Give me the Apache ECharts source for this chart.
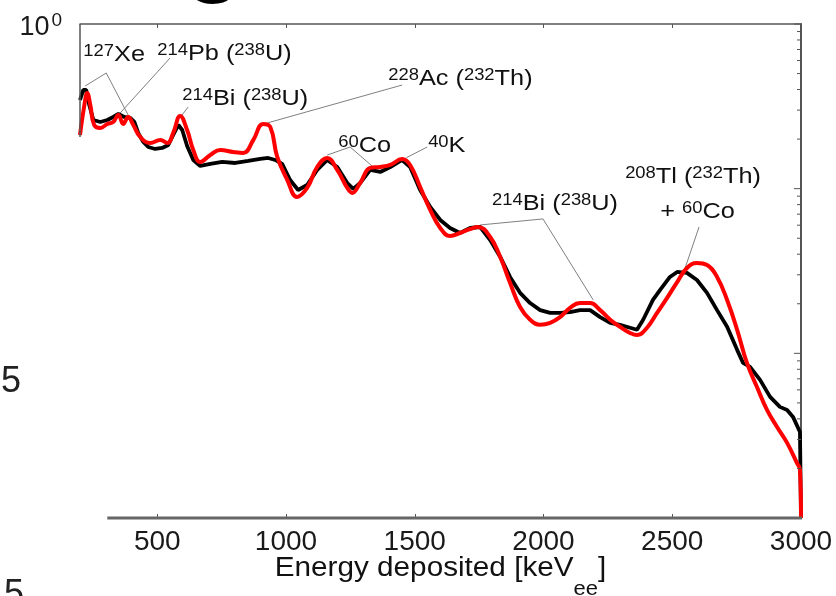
<!DOCTYPE html>
<html><head><meta charset="utf-8">
<script src="https://cdn.jsdelivr.net/npm/echarts@6/dist/echarts.min.js"></script>
<style>html,body{margin:0;padding:0;background:#fff}#c{width:836px;height:596px}</style>
</head><body><div id="c"></div>
<script>
// ---- axis ticks ----
const energyTicks = [500, 1000, 1500, 2000, 2500, 3000];
const energyInnerTicks = [500, 1000, 1500, 2000, 2500];
const yDecades = [0.001, 0.01, 0.1, 1];
const yMinor = [0.002,0.003,0.004,0.005,0.006,0.007,0.008,0.009,
                0.02,0.03,0.04,0.05,0.06,0.07,0.08,0.09,
                0.2,0.3,0.4,0.5,0.6,0.7,0.8,0.9];

// ---- measured spectrum (black) ----
const dataE = [200,213,224,236,252,279,306,329,349,372,395,411,426,446,465,492,519,543,562,582,597,616,640,667,706,752,803,853,900,931,958,985,1016,1047,1082,1121,1160,1199,1238,1261,1288,1327,1366,1405,1451,1482,1521,1560,1599,1637,1676,1715,1754,1793,1832,1870,1909,1948,1987,2026,2064,2103,2142,2181,2220,2259,2297,2336,2363,2387,2425,2453,2491,2519,2557,2596,2635,2674,2713,2752,2775,2802,2841,2880,2918,2946,2969,2996,3000];
const dataV = [0.3456,0.3975,0.3975,0.3222,0.2613,0.2541,0.2613,0.2725,0.2842,0.2725,0.2687,0.2541,0.2179,0.1921,0.1792,0.1742,0.1767,0.1842,0.2118,0.2436,0.2272,0.1817,0.1494,0.1374,0.1413,0.1453,0.1432,0.1473,0.1515,0.1536,0.1494,0.1413,0.1129,0.0982,0.1053,0.1299,0.1494,0.1354,0.1083,0.0996,0.1083,0.1299,0.1263,0.1354,0.1494,0.1354,0.0982,0.0774,0.0646,0.0577,0.0538,0.0577,0.0585,0.0488,0.0385,0.0291,0.0233,0.0202,0.0183,0.0176,0.0176,0.0178,0.0183,0.0183,0.0166,0.0153,0.0149,0.0143,0.0139,0.0160,0.0211,0.0243,0.0291,0.0312,0.0308,0.0279,0.0233,0.0183,0.0145,0.0105,0.00874,0.00827,0.00690,0.00544,0.00473,0.00453,0.00411,0.00333,0.001];

// ---- simulation / fit (red) ----
const fitE = [200,217,228,240,255,279,306,329,349,368,387,407,434,473,512,539,562,589,616,640,667,706,745,795,834,873,911,939,966,1005,1043,1082,1121,1160,1199,1238,1257,1288,1327,1366,1405,1451,1482,1521,1560,1599,1637,1676,1715,1746,1793,1832,1870,1909,1948,1987,2026,2064,2103,2142,2181,2220,2259,2297,2336,2363,2402,2441,2480,2519,2557,2596,2635,2674,2713,2752,2790,2829,2868,2907,2946,2984,2996,3000];
const fitV = [0.2118,0.3222,0.3811,0.3222,0.2436,0.2336,0.2471,0.2541,0.2802,0.2471,0.2725,0.2436,0.2060,0.1894,0.1975,0.1894,0.2179,0.2763,0.2272,0.1718,0.1453,0.1602,0.1718,0.1670,0.1647,0.1975,0.2471,0.2369,0.1558,0.1129,0.0891,0.1010,0.1354,0.1536,0.1299,0.1010,0.0942,0.1083,0.1336,0.1354,0.1393,0.1515,0.1393,0.1024,0.0743,0.0577,0.0516,0.0538,0.0569,0.0585,0.0509,0.0385,0.0268,0.0191,0.0160,0.0149,0.0153,0.0166,0.0189,0.0202,0.0202,0.0183,0.0160,0.0145,0.0133,0.0129,0.0143,0.0176,0.0217,0.0271,0.0330,0.0354,0.0344,0.0291,0.0211,0.0139,0.00874,0.00625,0.00453,0.00357,0.00286,0.00216,0.00196,0.001];

// ---- annotation leader lines (energy, value) ----
const leaderXe    = [[220,0.420],[302,0.504],[387,0.280]];
const leaderPb    = [[550,0.622],[356,0.288]];
const leaderBi609 = [[620,0.313],[593,0.276]];
const leaderAc    = [[927,0.2505],[1451,0.426]];
const leaderCo    = [[1160,0.160],[1249,0.179],[1335,0.137]];
const leaderK     = [[1467,0.154],[1548,0.179]];
const leaderBi    = [[1754,0.0602],[1998,0.0655],[2193,0.0211]];
const leaderTl    = [[2604,0.0585],[2550,0.0330]];

// ---- annotation labels: anchor = left / baseline (energy, value) ----
const labelAnchors = [[213,0.596],[500,0.6045],[597,0.3222],[1397,0.4262],[1203,0.1670],[1552,0.1670],[1800,0.0743],[2317,0.1083],[2453,0.0664]];
const labelTexts = [
  '{s|127}{m|Xe}',
  '{s|214}{m|Pb (}{s|238}{m|U)}',
  '{s|214}{m|Bi (}{s|238}{m|U)}',
  '{s|228}{m|Ac (}{s|232}{m|Th)}',
  '{s|60}{m|Co}',
  '{s|40}{m|K}',
  '{s|214}{m|Bi (}{s|238}{m|U)}',
  '{s|208}{m|Tl (}{s|232}{m|Th)}',
  '{m|+ }{s|60}{m|Co}'
];

const FF = 'Liberation Sans, Arial, Helvetica, sans-serif';
const zip = (a, b) => a.map((x, i) => [x, b[i]]);

const chart = echarts.init(document.getElementById('c'), null, {renderer: 'canvas'});

const leaders = [leaderXe, leaderPb, leaderBi609, leaderAc, leaderCo, leaderK, leaderBi, leaderTl];
const series = leaders.map(pts => ({
  type: 'line', data: pts, symbol: 'none', silent: true, z: 1,
  xAxisIndex: 0, yAxisIndex: 0,
  lineStyle: {color: '#808080', width: 1}
}));
series.push({
  type: 'line', name: 'data', data: zip(dataE, dataV), symbol: 'none', z: 2,
  xAxisIndex: 0, yAxisIndex: 0,
  lineStyle: {color: '#000', width: 3.8}
});
series.push({
  type: 'line', name: 'fit', data: zip(fitE, fitV), symbol: 'none', z: 3,
  smooth: 0.45,
  xAxisIndex: 0, yAxisIndex: 0,
  lineStyle: {color: '#ff0000', width: 4}
});
series.push({
  type: 'custom', silent: true, z: 4, xAxisIndex: 0, yAxisIndex: 0,
  data: yDecades.map(v => [3000, v, 1]).concat(yMinor.map(v => [3000, v, 0])),
  encode: {x: 0, y: 1},
  renderItem: function (params, api) {
    const p = api.coord([api.value(0), api.value(1)]);
    const len = api.value(2) ? 7 : 4;
    return {type: 'line', shape: {x1: p[0], y1: p[1], x2: p[0] - len, y2: p[1]},
            style: {stroke: '#555', lineWidth: 1}};
  }
});

chart.setOption({
  animation: false,
  backgroundColor: '#fff',
  grid: {left: 80, right: 35, top: 24, bottom: 78, containLabel: false, outerBoundsMode: 'none'},
  xAxis: [{
    type: 'value', min: 200, max: 3000, position: 'bottom',
    axisLine: {show: false},
    axisTick: {show: true, inside: true, length: 4, customValues: energyInnerTicks, lineStyle: {color: '#555'}},
    axisLabel: {show: true, customValues: energyTicks, margin: 10, fontSize: 28, fontFamily: FF, color: '#1a1a1a',
      formatter: v => String(v)},
    splitLine: {show: false}
  }, {
    type: 'value', min: 200, max: 3000, position: 'top',
    axisLine: {show: true, lineStyle: {color: '#555', width: 1.5}},
    axisTick: {show: true, inside: true, length: 4, customValues: energyInnerTicks, lineStyle: {color: '#555'}},
    axisLabel: {show: false},
    splitLine: {show: false}
  }],
  yAxis: [{
    type: 'log', logBase: 10, min: 0.001, max: 1, position: 'left',
    axisLine: {show: false}, axisTick: {show: false}, splitLine: {show: false},
    axisLabel: {
      show: true, margin: 18, showMaxLabel: true, padding: [8, 0, 0, 0],
      formatter: v => (Math.abs(v - 1) < 1e-9 ? '{n|10}{e|0}' : ''),
      rich: {
        n: {fontSize: 27, fontFamily: FF, color: '#1a1a1a', lineHeight: 34},
        e: {fontSize: 19, fontFamily: FF, color: '#1a1a1a', lineHeight: 16, verticalAlign: 'top', padding: [0, 0, 0, 2]}
      }
    }
  }, {
    type: 'log', logBase: 10, min: 0.001, max: 1, position: 'right',
    axisLine: {show: true, lineStyle: {color: '#555', width: 2}},
    axisTick: {show: false}, axisLabel: {show: false}, splitLine: {show: false}
  }],
  series: series
});

// ---- overlay texts and partial frame lines, positioned via the axes ----
const px = (e, v) => chart.convertToPixel({xAxisIndex: 0, yAxisIndex: 0}, [e, v]);
const graphics = [];
const annRich = {
  m: {fontSize: 22, fontFamily: FF, fill: '#111', color: '#111', lineHeight: 28, verticalAlign: 'top'},
  s: {fontSize: 16, fontFamily: FF, fill: '#111', color: '#111', lineHeight: 14, verticalAlign: 'top'}
};
labelAnchors.forEach((a, i) => {
  const p = px(a[0], a[1]);
  graphics.push({type: 'text', x: p[0], y: p[1] - 17, scaleX: 1.15, silent: true, z: 10,
    style: {text: labelTexts[i], rich: annRich, fill: '#111', fontSize: 22, fontFamily: FF}});
});
// axis title
const tb = px(1600, 0.001);
graphics.push({type: 'text', x: tb[0], y: 555.5, scaleX: 1.1, silent: true, z: 10,
  style: {text: '{m|Energy deposited [keV}{b|ee}{m|]}', align: 'center', textAlign: 'center',
    rich: {
      m: {fontSize: 27, fontFamily: FF, fill: '#111', lineHeight: 44, verticalAlign: 'top'},
      b: {fontSize: 20, fontFamily: FF, fill: '#111', lineHeight: 18, verticalAlign: 'bottom'}
    }, fill: '#111', fontSize: 27, fontFamily: FF}});
// partial left frame and bottom axis line
const l1 = px(200, 1), l2 = px(200, 0.206);
graphics.push({type: 'line', silent: true, z: 5, shape: {x1: l1[0], y1: l1[1], x2: l2[0], y2: l2[1]},
  style: {stroke: '#555', lineWidth: 1.5}});
const b1 = px(306, 0.001), b2 = px(3000, 0.001);
graphics.push({type: 'line', silent: true, z: 5, shape: {x1: b1[0], y1: b1[1], x2: b2[0] + 1, y2: b2[1]},
  style: {stroke: '#666', lineWidth: 3}});
// fragments of neighbouring panel text
graphics.push({type: 'text', x: 1, y: 382, silent: true,
  style: {text: '5', fontSize: 36, fontFamily: FF, fill: '#222', verticalAlign: 'middle', textVerticalAlign: 'middle'}});
graphics.push({type: 'text', x: 4, y: 595, silent: true,
  style: {text: '5', fontSize: 36, fontFamily: FF, fill: '#222', verticalAlign: 'middle', textVerticalAlign: 'middle'}});
graphics.push({type: 'text', x: 183, y: -104, silent: true,
  style: {text: 'g', fontSize: 110, fontFamily: FF, fill: '#000'}});

chart.setOption({graphic: {elements: graphics}});
</script></body></html>
